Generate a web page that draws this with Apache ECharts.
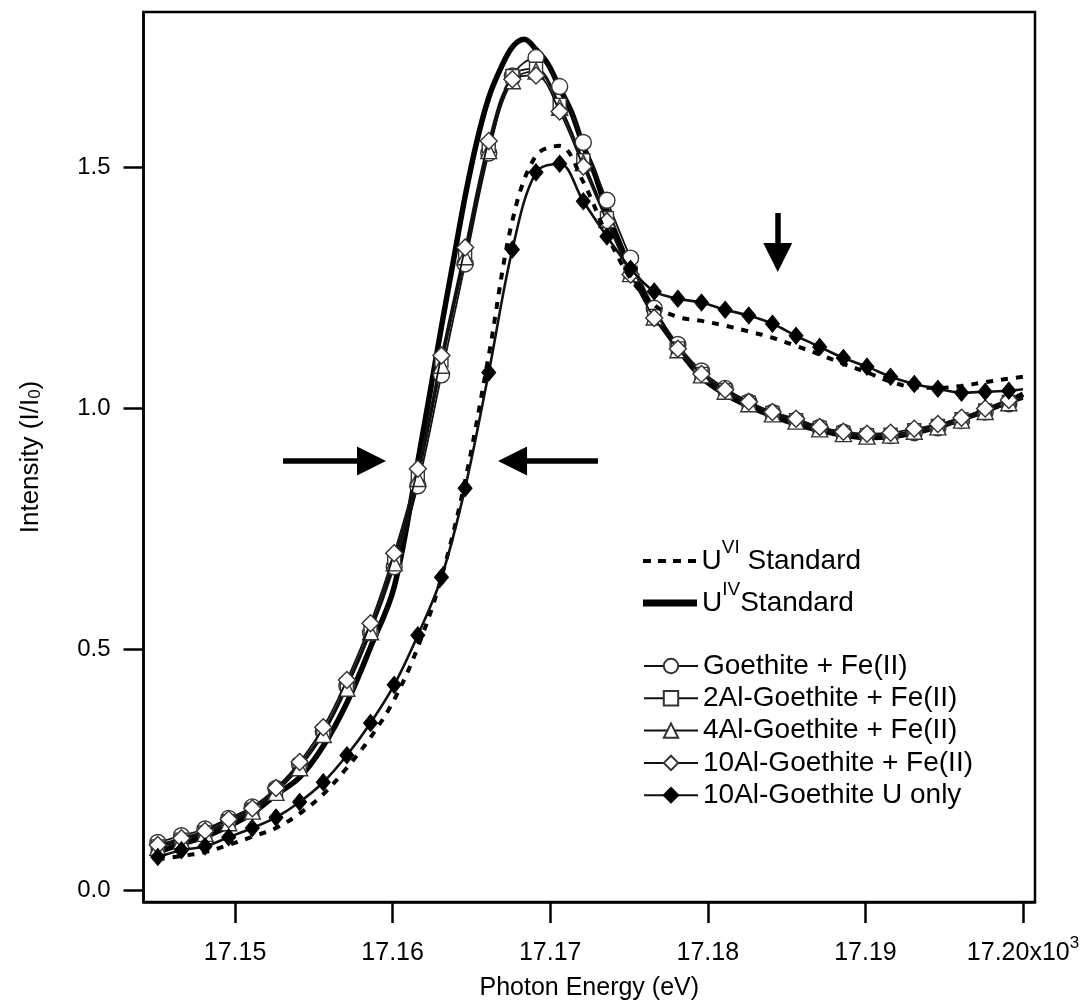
<!DOCTYPE html>
<html><head><meta charset="utf-8">
<script src="https://cdn.jsdelivr.net/npm/echarts@6/dist/echarts.min.js"></script>
<style>html,body{margin:0;padding:0;background:#fff}#c{width:1088px;height:1001px}</style>
</head><body><div id="c"></div>
<script>
// Photon energy (keV) of each measured point (marker series and U(VI) standard)
const energy = [17.1451,17.1466,17.1481,17.1496,17.1511,17.1526,17.1541,17.1556,17.1571,17.1586,
  17.1601,17.1616,17.1631,17.1646,17.1661,17.1676,17.1691,17.1706,17.1721,17.1736,
  17.1751,17.1766,17.1781,17.1796,17.1811,17.1826,17.1841,17.1856,17.1871,17.1886,
  17.1901,17.1916,17.1931,17.1946,17.1961,17.1976,17.1991,17.2000];
// U(IV) standard is sampled more finely around the white line
const uivEnergy = [17.1451,17.1466,17.1481,17.1496,17.1511,17.1526,17.1541,17.1556,17.1571,17.1586,
  17.1601,17.1616,17.1631,17.16385,17.1646,17.16535,17.1661,17.16685,17.1676,17.16835,
  17.1691,17.16985,17.1706,17.17135,17.1721,17.17285,17.1736,17.1751,17.1766,17.1781,
  17.1796,17.1811,17.1826,17.1841,17.1856,17.1871,17.1886,17.1901,17.1916,17.1931,
  17.1946,17.1961,17.1976,17.1991,17.2000];
const uivStandard = [0.080,0.097,0.112,0.134,0.161,0.199,0.235,0.300,0.390,0.505,
  0.630,0.890,1.170,1.305,1.440,1.555,1.645,1.705,1.750,1.766,
  1.745,1.715,1.665,1.615,1.545,1.485,1.410,1.290,1.200,1.125,
  1.065,1.030,1.005,0.985,0.968,0.955,0.945,0.940,0.942,0.950,
  0.962,0.978,0.995,1.015,1.030];
const uviStandard = [0.065,0.072,0.080,0.095,0.112,0.130,0.160,0.200,0.255,0.318,
  0.396,0.505,0.650,0.850,1.110,1.390,1.525,1.545,1.470,1.360,
  1.270,1.215,1.190,1.182,1.172,1.160,1.147,1.130,1.112,1.093,
  1.075,1.056,1.044,1.043,1.047,1.055,1.062,1.066];
const goethiteFe = [0.100,0.114,0.128,0.150,0.174,0.212,0.262,0.330,0.425,0.535,
  0.672,0.840,1.070,1.300,1.530,1.690,1.728,1.668,1.552,1.432,
  1.312,1.208,1.133,1.078,1.042,1.014,0.992,0.976,0.961,0.951,
  0.945,0.944,0.950,0.960,0.975,0.993,1.010,1.020];
const al2GoethiteFe = [0.092,0.106,0.121,0.144,0.168,0.208,0.260,0.330,0.428,0.545,
  0.690,0.865,1.100,1.325,1.545,1.690,1.705,1.630,1.515,1.395,
  1.282,1.192,1.125,1.072,1.038,1.012,0.991,0.976,0.960,0.950,
  0.945,0.946,0.955,0.964,0.978,0.996,1.014,1.022];
const al4GoethiteFe = [0.090,0.104,0.119,0.141,0.165,0.204,0.255,0.324,0.420,0.537,
  0.680,0.855,1.090,1.315,1.535,1.680,1.700,1.625,1.510,1.392,
  1.280,1.190,1.122,1.070,1.036,1.010,0.989,0.974,0.958,0.948,
  0.943,0.945,0.953,0.962,0.976,0.994,1.012,1.020];
const al10GoethiteFe = [0.095,0.109,0.124,0.148,0.171,0.213,0.267,0.339,0.437,0.555,
  0.700,0.875,1.110,1.334,1.555,1.683,1.691,1.616,1.502,1.388,
  1.278,1.188,1.124,1.072,1.039,1.014,0.993,0.979,0.962,0.952,
  0.948,0.950,0.958,0.968,0.981,1.000,1.018,1.025];
const al10GoethiteUonly = [0.070,0.084,0.092,0.111,0.130,0.152,0.184,0.225,0.281,0.348,
  0.427,0.530,0.650,0.835,1.075,1.330,1.490,1.508,1.430,1.357,
  1.290,1.243,1.228,1.220,1.205,1.193,1.176,1.151,1.128,1.105,
  1.087,1.066,1.051,1.041,1.033,1.035,1.037,1.040];
const xTicks = [17.15,17.16,17.17,17.18,17.19,17.20];
const yTicks = [0.0,0.5,1.0,1.5];
// annotation arrows [x0,y0] -> [x1,y1] (data units)
const arrowLeft = [[17.15305,0.8913],[17.15866,0.8913]];
const arrowRight = [[17.17303,0.8913],[17.16761,0.8913]];
const arrowDown = [[17.18444,1.4057],[17.18444,1.3134]];

const FONT = '"Liberation Sans", Arial, sans-serif';
const names = {
  uvi: 'U^VI Standard', uiv: 'U^IV Standard',
  g: 'Goethite + Fe(II)', g2: '2Al-Goethite + Fe(II)', g4: '4Al-Goethite + Fe(II)',
  g10: '10Al-Goethite + Fe(II)', g10u: '10Al-Goethite U only'
};
const richNames = {
  'U^VI Standard': 'U{sup|VI} Standard',
  'U^IV Standard': 'U{sup|IV}Standard'
};
function pts(xs, vals, markLast) {
  return xs.map((e, i) => {
    const it = { value: [e, vals[i]] };
    if (markLast && i === xs.length - 1) it.symbol = 'none';
    return it;
  });
}
function markerSeries(name, vals, symbol, size, filled, z) {
  return {
    name, type: 'line', data: pts(energy, vals, true), smooth: 0.35, z,
    symbol, symbolSize: size, showSymbol: true,
    lineStyle: { color: '#111', width: filled ? 2.6 : 1.8 },
    itemStyle: { color: filled ? '#000' : '#fff', borderColor: filled ? '#000' : '#333', borderWidth: filled ? 1 : 1.4 },
    emphasis: { disabled: true }
  };
}
const arrowLine = (a) => [
  { coord: a[0], symbol: 'none' },
  { coord: a[1], symbol: 'triangle', symbolSize: 29 }
];

const chart = echarts.init(document.getElementById('c'), null, { renderer: 'canvas' });
const supText = {
  fontFamily: FONT, fontSize: 28, color: '#000', lineHeight: 45,
  rich: { sup: { fontFamily: FONT, fontSize: 19, verticalAlign: 'top', color: '#000' } }
};
const plainText = { fontFamily: FONT, fontSize: 28, color: '#000', lineHeight: 28 };
const legendCommon = { orient: 'vertical', left: 638, itemWidth: 54, selectedMode: false,
  formatter: n => richNames[n] || n };
chart.setOption({
  animation: false,
  backgroundColor: '#fff',
  grid: { left: 143.5, right: 53, top: 12, bottom: 99, show: true, borderColor: '#000', borderWidth: 2.5,
    containLabel: false, outerBoundsMode: 'none' },
  xAxis: {
    type: 'value', min: 17.144194, max: 17.200761,
    name: 'Photon Energy (eV)', nameLocation: 'middle', nameGap: 71,
    nameTextStyle: { fontFamily: FONT, fontSize: 25, color: '#000' },
    axisLine: { show: true, onZero: false, lineStyle: { color: '#000', width: 2.5 } },
    axisTick: { show: true, inside: false, length: 21, customValues: xTicks, lineStyle: { color: '#000', width: 2.5 } },
    axisLabel: {
      customValues: xTicks, margin: 33, fontFamily: FONT, fontSize: 25, lineHeight: 36, color: '#000',
      formatter: v => (Math.abs(v - 17.20) < 1e-6 ? '17.20x10{sup|3}' : v.toFixed(2)),
      rich: { sup: { fontFamily: FONT, fontSize: 17, verticalAlign: 'top', color: '#000' } }
    },
    splitLine: { show: false }
  },
  yAxis: {
    type: 'value', min: -0.0234, max: 1.8226,
    name: 'Intensity (I/I{sub|0})', nameLocation: 'middle', nameGap: 100, nameRotate: 90,
    nameTextStyle: { fontFamily: FONT, fontSize: 26, color: '#000',
      rich: { sub: { fontFamily: FONT, fontSize: 17, lineHeight: 4, verticalAlign: 'bottom', color: '#000' } } },
    axisLine: { show: true, onZero: false, lineStyle: { color: '#000', width: 2.5 } },
    axisTick: { show: true, inside: false, length: 20, customValues: yTicks, lineStyle: { color: '#000', width: 2.5 } },
    axisLabel: { customValues: yTicks, margin: 33, fontFamily: FONT, fontSize: 24, color: '#000', formatter: v => v.toFixed(1) },
    splitLine: { show: false }
  },
  legend: [
    Object.assign({}, legendCommon, {
      top: 533.5, itemHeight: 4, textStyle: supText,
      data: [{ name: names.uvi, icon: 'path://M0,0h8v4h-8zM15,0h8v4h-8zM30,0h8v4h-8zM45,0h8v4h-8z' }]
    }),
    Object.assign({}, legendCommon, {
      top: 575.5, itemHeight: 7, textStyle: supText,
      data: [{ name: names.uiv, icon: 'path://M0,0h54v7h-54z' }]
    }),
    Object.assign({}, legendCommon, {
      top: 647, itemHeight: 18, itemGap: 4.3, textStyle: plainText,
      data: [names.g, names.g2, names.g4, names.g10, names.g10u]
    })
  ],
  series: [
    {
      name: names.uiv, type: 'line', data: pts(uivEnergy, uivStandard, false), smooth: 0.35, z: 2,
      showSymbol: false, symbol: 'none',
      lineStyle: { color: '#000', width: 5.5 }, itemStyle: { color: '#000' }, emphasis: { disabled: true }
    },
    markerSeries(names.g, goethiteFe, 'circle', 16, false, 3),
    markerSeries(names.g2, al2GoethiteFe, 'rect', 13, false, 3),
    markerSeries(names.g4, al4GoethiteFe, 'triangle', 16, false, 3),
    markerSeries(names.g10, al10GoethiteFe, 'diamond', 17, false, 4),
    {
      name: names.uvi, type: 'line', data: pts(energy, uviStandard, false), smooth: 0.35, z: 5,
      showSymbol: false, symbol: 'none',
      lineStyle: { color: '#000', width: 4, type: [7, 8] }, itemStyle: { color: '#000' }, emphasis: { disabled: true }
    },
    Object.assign(markerSeries(names.g10u, al10GoethiteUonly, 'diamond', [14, 17], true, 6), {
      markLine: {
        silent: true, animation: false, label: { show: false },
        lineStyle: { color: '#000', width: 5.5, type: 'solid' },
        itemStyle: { color: '#000' },
        emphasis: { disabled: true },
        data: [arrowLine(arrowLeft), arrowLine(arrowRight), arrowLine(arrowDown)]
      }
    })
  ]
});
</script></body></html>
